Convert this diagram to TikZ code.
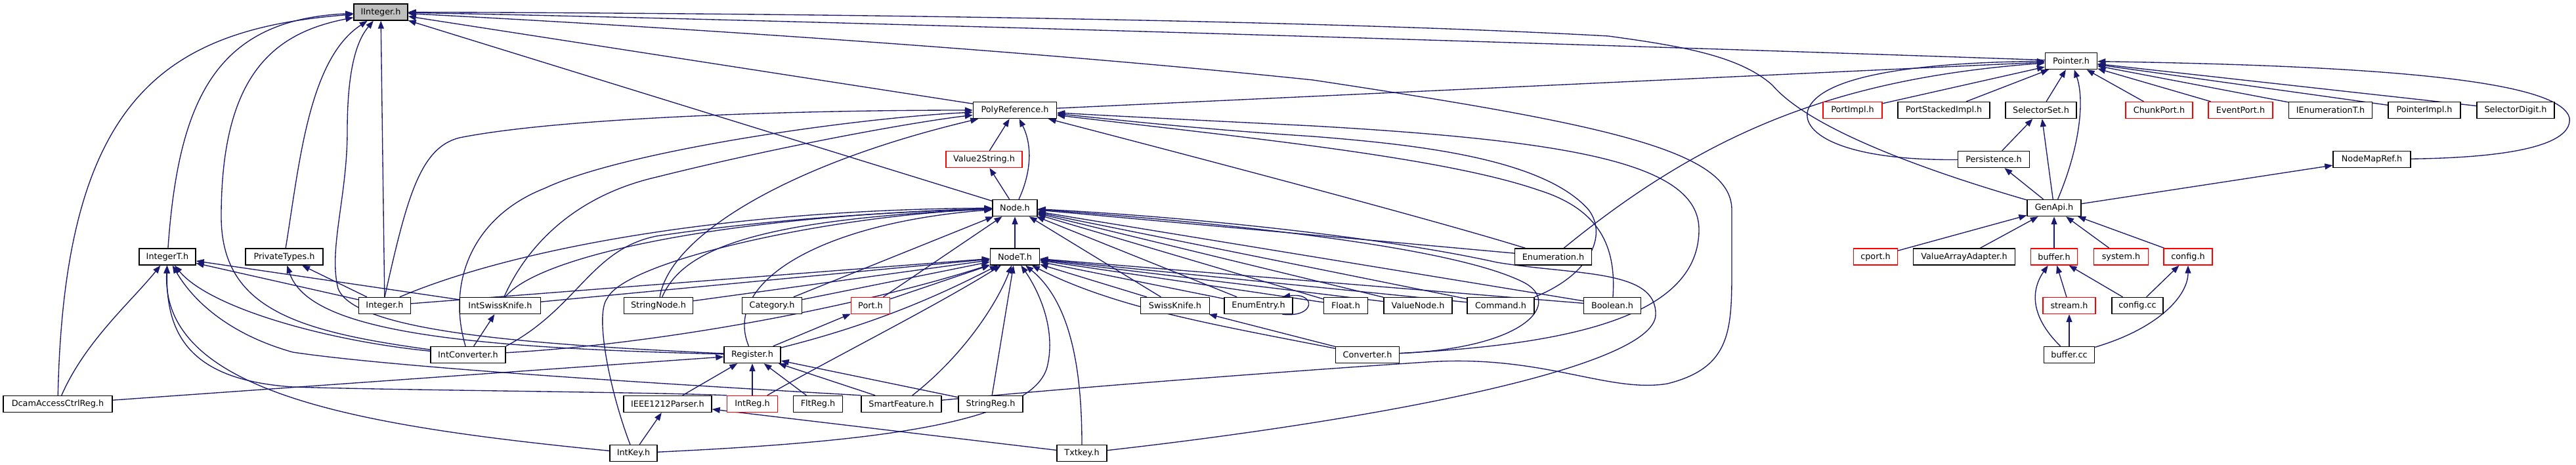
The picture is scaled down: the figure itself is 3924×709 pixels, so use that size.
\documentclass[tikz,border=0pt]{standalone}
\usepackage{fontspec}
\setmainfont{DejaVu Sans}
\usetikzlibrary{arrows.meta}
\definecolor{edgeblue}{HTML}{191970}
\definecolor{boxgray}{HTML}{BFBFBF}
\pgfdeclarelayer{bg}
\pgfsetlayers{bg,main}
\tikzset{
  box/.style={draw=black, line width=1.4pt, fill=white, minimum height=25pt, inner sep=0pt,
              font=\fontsize{12.8}{15}\selectfont},
  redbox/.style={box, draw=red},
  graybox/.style={box, fill=boxgray},
  e/.style={draw=edgeblue, line width=1.35pt, -{Triangle[length=12pt,width=9pt]}}
}
\begin{document}
\begin{tikzpicture}[x=1pt,y=-1pt]
\useasboundingbox (0,0) rectangle (3924,709);
% row 0
\node[graybox, minimum width=82pt] (ii) at (580,18.5) {IInteger.h};
% row 1
\node[box, minimum width=79pt] (ptr) at (3155,93) {Pointer.h};
% row 2
\node[box, minimum width=127pt] (poly) at (1546,168) {PolyReference.h};
\node[redbox, minimum width=90pt] (pimpl) at (2822,168) {PortImpl.h};
\node[box, minimum width=140pt] (pstack) at (2961,168) {PortStackedImpl.h};
\node[box, minimum width=108pt] (selset) at (3109,168) {SelectorSet.h};
\node[redbox, minimum width=102pt] (chunk) at (3289,168) {ChunkPort.h};
\node[redbox, minimum width=98pt] (event) at (3413,168) {EventPort.h};
\node[box, minimum width=127pt] (ienum) at (3550,168) {IEnumerationT.h};
\node[box, minimum width=110pt] (pimpl2) at (3693,168) {PointerImpl.h};
\node[box, minimum width=118pt] (seldig) at (3832,168) {SelectorDigit.h};
% row 3
\node[redbox, minimum width=116pt] (v2s) at (1499,243) {Value2String.h};
\node[box, minimum width=109pt] (pers) at (3037,243) {Persistence.h};
\node[box, minimum width=118pt] (nmr) at (3613,243) {NodeMapRef.h};
% row 4
\node[box, minimum width=68pt] (node) at (1546,317) {Node.h};
\node[box, minimum width=82pt] (genapi) at (3129,317) {GenApi.h};
% row 5
\node[box, minimum width=86pt] (intT) at (255,391.5) {IntegerT.h};
\node[box, minimum width=118pt] (priv) at (433,391.5) {PrivateTypes.h};
\node[box, minimum width=75pt] (nodeT) at (1546,391.5) {NodeT.h};
\node[box, minimum width=117pt] (enumn) at (2366,391.5) {Enumeration.h};
\node[redbox, minimum width=67pt] (cport) at (2857,391.5) {cport.h};
\node[box, minimum width=155pt] (vaa) at (2992,391.5) {ValueArrayAdapter.h};
\node[redbox, minimum width=71pt] (bufh) at (3129,391.5) {buffer.h};
\node[redbox, minimum width=83pt] (sysh) at (3231,391.5) {system.h};
\node[redbox, minimum width=74pt] (cfgh) at (3333,391.5) {config.h};
% row 6
\node[box, minimum width=79pt] (integer) at (586,466) {Integer.h};
\node[box, minimum width=123pt] (iswk) at (762,466) {IntSwissKnife.h};
\node[box, minimum width=105pt] (strnode) at (1003,466) {StringNode.h};
\node[box, minimum width=91pt] (cat) at (1176,466) {Category.h};
\node[redbox, minimum width=59pt] (port) at (1326,466) {Port.h};
\node[box, minimum width=105pt] (swk) at (1790,466) {SwissKnife.h};
\node[box, minimum width=104pt] (eentry) at (1917,466) {EnumEntry.h};
\node[box, minimum width=67pt] (flt) at (2050,466) {Float.h};
\node[box, minimum width=104pt] (vnode) at (2160,466) {ValueNode.h};
\node[box, minimum width=102pt] (cmd) at (2286,466) {Command.h};
\node[box, minimum width=87pt] (bool) at (2456,466) {Boolean.h};
\node[redbox, minimum width=80pt] (strm) at (3152,466) {stream.h};
\node[box, minimum width=78pt] (cfgcc) at (3256,466) {config.cc};
% row 7
\node[box, minimum width=114pt] (iconv) at (713,541) {IntConverter.h};
\node[box, minimum width=86pt] (reg) at (1146,541) {Register.h};
\node[box, minimum width=97pt] (conv) at (2083,541) {Converter.h};
\node[box, minimum width=77pt] (bufcc) at (3152,541) {buffer.cc};
% row 8
\node[box, minimum width=166pt] (dcam) at (88,616) {DcamAccessCtrlReg.h};
\node[box, minimum width=134pt] (ieee) at (1017,616) {IEEE1212Parser.h};
\node[redbox, minimum width=77pt] (intreg) at (1146,616) {IntReg.h};
\node[box, minimum width=75pt] (fltreg) at (1246,616) {FltReg.h};
\node[box, minimum width=122pt] (smart) at (1373,616) {SmartFeature.h};
\node[box, minimum width=98pt] (strreg) at (1509,616) {StringReg.h};
% row 9
\node[box, minimum width=72pt] (intkey) at (965,691) {IntKey.h};
\node[box, minimum width=76pt] (txtkey) at (1648,691) {Txtkey.h};

\begin{pgfonlayer}{bg}
% ---- into IInteger.h
\draw[e] (dcam) .. controls (98,150) and (250,45) .. (ii);
\draw[e] (intT) .. controls (272,150) and (330,30) .. (ii);
\draw[e] (iconv) .. controls (450,505) and (337,470) .. (337,330) .. controls (337,110) and (420,50) .. (ii);
\draw[e] (priv) .. controls (456,250) and (470,90) .. (ii);
\draw[e] (reg) .. controls (800,525) and (540,505) .. (515,440) .. controls (500,380) and (529,300) .. (529,200) .. controls (529,100) and (545,60) .. (ii);
\draw[e] (integer) -- (ii);
\draw[e] (genapi) .. controls (2950,265) and (2760,200) .. (2700,130) .. controls (2650,85) and (2560,70) .. (2450,55) .. controls (2000,30) and (1200,20) .. (ii);
\draw[e] (ptr) .. controls (2500,70) and (1200,30) .. (ii);
\draw[e] (smart) .. controls (1700,585) and (2050,560) .. (2174,552) .. controls (2350,540) and (2450,600) .. (2540,585) .. controls (2640,560) and (2638,500) .. (2638,400) -- (2638,320) .. controls (2638,230) and (2450,190) .. (2000,122) .. controls (1500,70) and (900,35) .. (ii);
\draw[e] (poly) -- (ii);
\draw[e] (node) -- (ii);
% ---- into IntegerT.h
\draw[e] (dcam) .. controls (130,520) and (200,460) .. (intT);
\draw[e] (intreg.north west) .. controls (1000,598) and (600,595) .. (446,590) .. controls (300,580) and (252,520) .. (intT);
\draw[e] (intkey) .. controls (550,650) and (245,600) .. (intT);
\draw[e] (smart.north west) .. controls (1000,585) and (600,560) .. (446,537) .. controls (350,510) and (295,460) .. (intT);
\draw[e] (iconv) .. controls (500,520) and (320,470) .. (intT);
\draw[e] (iswk) -- (intT);
\draw[e] (integer) -- (intT);
% ---- into PrivateTypes.h
\draw[e] (integer) -- (priv);
\draw[e] (reg) .. controls (700,530) and (470,505) .. (priv);
% ---- into PolyReference.h
\draw[e] (integer.north) .. controls (620,300) and (640,225) .. (700,210) .. controls (850,180) and (1200,168) .. (poly);
\draw[e] (iconv) .. controls (680,430) and (720,330) .. (830,287) .. controls (950,230) and (1300,180) .. (poly);
\draw[e] (iswk) .. controls (800,380) and (870,300) .. (1000,270) .. controls (1200,220) and (1400,185) .. (poly);
\draw[e] (strnode) .. controls (1020,360) and (1200,250) .. (poly);
\draw[e] (v2s) -- (poly);
\draw[e] (node) .. controls (1572,260) and (1572,220) .. (poly);
\draw[e] (enumn) .. controls (2200,340) and (1900,260) .. (poly);
\draw[e] (conv) .. controls (2400,525) and (2588,480) .. (2588,350) .. controls (2588,250) and (2400,215) .. (2000,192) .. controls (1800,182) and (1680,176) .. (poly);
\draw[e] (cmd.north east) .. controls (2420,420) and (2450,360) .. (2420,320) .. controls (2350,240) and (2150,220) .. (2000,208) .. controls (1800,195) and (1680,180) .. (poly);
\draw[e] (bool) .. controls (2462,380) and (2440,320) .. (2344,290) .. controls (2200,240) and (1900,210) .. (poly);
% ---- into Value2String.h
\draw[e] (node) -- (v2s);
% ---- into Node.h
\draw[e] (integer.30) .. controls (780,380) and (1100,320) .. (node);
\draw[e] (iswk.60) .. controls (820,390) and (1100,330) .. (node);
\draw[e] (iconv.north east) .. controls (880,470) and (900,380) .. (1000,360) .. controls (1200,330) and (1400,322) .. (node);
\draw[e] (strnode) .. controls (1040,380) and (1150,335) .. (node);
\draw[e] (reg) .. controls (1100,430) and (1250,340) .. (node);
\draw[e] (cat) -- (node);
\draw[e] (port) -- (node);
\draw[e] (nodeT) -- (node);
\draw[e] (intkey) .. controls (930,600) and (905,480) .. (925,455) .. controls (950,400) and (1250,330) .. (node);
\draw[e] (swk) -- (node);
\draw[e] (eentry) -- (node);
\draw[e] (flt) -- (node);
\draw[e] (vnode) -- (node);
\draw[e] (cmd) -- (node);
\draw[e] (bool) -- (node);
\draw[e] (enumn) -- (node);
\draw[e] (conv) .. controls (2330,530) and (2380,460) .. (2320,430) .. controls (2200,370) and (1800,335) .. (node);
\draw[e] (txtkey) .. controls (2100,640) and (2520,560) .. (2522,480) .. controls (2524,410) and (2400,420) .. (2280,400) .. controls (2100,360) and (1800,330) .. (node);
% ---- into NodeT.h
\draw[e] (integer) -- (nodeT);
\draw[e] (iswk) -- (nodeT);
\draw[e] (strnode) -- (nodeT);
\draw[e] (cat) -- (nodeT);
\draw[e] (port) -- (nodeT);
\draw[e] (iconv) .. controls (1000,525) and (1300,470) .. (nodeT);
\draw[e] (reg) .. controls (1350,490) and (1450,440) .. (nodeT);
\draw[e] (intreg) .. controls (1260,550) and (1420,470) .. (nodeT);
\draw[e] (smart) .. controls (1470,540) and (1520,460) .. (nodeT);
\draw[e] (strreg) -- (nodeT);
\draw[e] (intkey) .. controls (1300,675) and (1570,650) .. (1595,560) .. controls (1610,500) and (1580,440) .. (nodeT);
\draw[e] (txtkey) .. controls (1648,560) and (1630,460) .. (nodeT);
\draw[e] (swk) -- (nodeT);
\draw[e] (eentry) -- (nodeT);
\draw[e] (flt) -- (nodeT);
\draw[e] (vnode) -- (nodeT);
\draw[e] (cmd) -- (nodeT);
\draw[e] (bool) -- (nodeT);
\draw[e] (conv) .. controls (1850,495) and (1700,470) .. (nodeT);
% ---- Register.h and lower
\draw[e] (ieee) -- (reg);
\draw[e] (intreg) -- (reg);
\draw[e] (fltreg) -- (reg);
\draw[e] (smart) -- (reg);
\draw[e] (strreg) -- (reg);
\draw[e] (dcam) -- (reg);
\draw[e] (reg) -- (port);
\draw[e] (intkey) -- (ieee);
\draw[e] (txtkey) -- (ieee);
\draw[e] (iconv) -- (iswk);
\draw[e] (conv) -- (swk);
\draw[e] (eentry.-20) .. controls (2005,485) and (2005,445) .. (eentry.20);
% ---- into Pointer.h
\draw[e] (pimpl) -- (ptr);
\draw[e] (pstack) -- (ptr);
\draw[e] (selset) -- (ptr);
\draw[e] (genapi) .. controls (3170,220) and (3175,150) .. (ptr);
\draw[e] (chunk) -- (ptr);
\draw[e] (event) -- (ptr);
\draw[e] (ienum) -- (ptr);
\draw[e] (pimpl2) -- (ptr);
\draw[e] (seldig) -- (ptr);
\draw[e] (nmr) .. controls (3850,240) and (3918,215) .. (3914,180) .. controls (3900,120) and (3600,100) .. (ptr);
\draw[e] (enumn) .. controls (2600,200) and (2800,120) .. (ptr);
\draw[e] (pers) .. controls (2800,245) and (2740,200) .. (2755,165) .. controls (2780,110) and (2950,95) .. (ptr);
\draw[e] (poly) -- (ptr);
% ---- GenApi.h and below
\draw[e] (genapi) -- (pers);
\draw[e] (genapi) -- (selset);
\draw[e] (pers) -- (selset);
\draw[e] (genapi) -- (nmr);
\draw[e] (cport) -- (genapi);
\draw[e] (vaa) -- (genapi);
\draw[e] (bufh) -- (genapi);
\draw[e] (sysh) -- (genapi);
\draw[e] (cfgh) -- (genapi);
\draw[e] (strm) -- (bufh);
\draw[e] (cfgcc) -- (bufh);
\draw[e] (bufcc) .. controls (3090,480) and (3095,440) .. (bufh);
\draw[e] (bufcc) -- (strm);
\draw[e] (cfgcc) -- (cfgh);
\draw[e] (bufcc) .. controls (3290,500) and (3333,450) .. (cfgh);
\end{pgfonlayer}
\end{tikzpicture}
\end{document}
